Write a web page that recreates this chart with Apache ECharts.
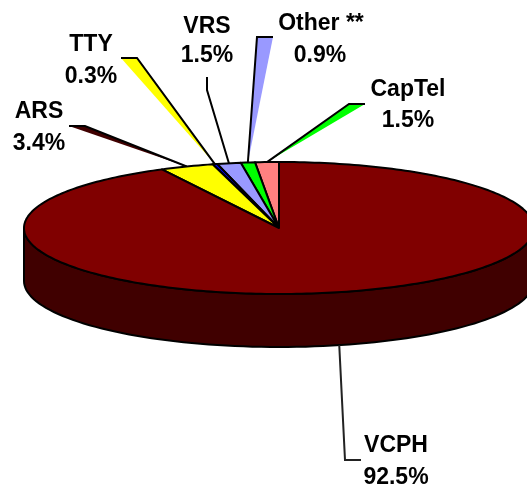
<!DOCTYPE html>
<html>
<head>
<meta charset="utf-8">
<style>html,body{margin:0;padding:0;background:#fff}#c{width:527px;height:485px}</style>
<script src="https://cdn.jsdelivr.net/npm/echarts@6/dist/echarts.min.js"></script>
</head>
<body>
<div id="c"></div>
<script>
// Data, counter-clockwise from 12 o'clock
const categories = ['CapTel', 'Other **', 'VRS', 'TTY', 'ARS', 'VCPH'];
const shares = [1.5, 0.9, 1.5, 0.3, 3.4, 92.5];
const shareLabels = ['1.5%', '0.9%', '1.5%', '0.3%', '3.4%', '92.5%'];

// Styling
const sliceColors = ['#ff8080', '#00ff00', '#9999ff', '#0000ff', '#ffff00', '#800000'];
const spikeColors = ['#00ff00', '#9999ff', null, '#ffff00', '#400000', null];
const sideColor = '#400000';
const EDGE = '#000';
const EDGE_WIDTH = 2;
const DEPTH = 53 / 66; // rim depth in y-axis units

// Pixel layout of callouts and labels
const spikeTips = [
  [[349, 104], [365, 104]],
  [[257, 37], [273, 37]],
  [[207, 77], [207, 90]],
  [[121, 58], [137, 58]],
  [[69, 126], [85, 126]],
  [[345, 460], [361, 460]]
];
const nameAt = [[408, 89.5], [321, 23.5], [207, 26.5], [91, 44.5], [39, 111.5], [396, 445.5]];
const shareAt = [[408, 120.5], [320, 55.5], [207, 55.5], [91, 76.5], [39, 143.5], [396, 477.5]];

const total = shares.reduce((a, b) => a + b, 0);
const toAngle = v => v / total * Math.PI * 2;
const starts = [];
shares.reduce((acc, v, i) => { starts[i] = acc; return acc + v; }, 0);
const rimPoint = (a, dy) => [-Math.sin(a), Math.cos(a) - (dy || 0)];

function renderSide(params, api) {
  const pts = [];
  for (let d = 90; d <= 270; d += 2) pts.push(api.coord(rimPoint(d * Math.PI / 180, 0)));
  for (let d = 270; d >= 90; d -= 2) pts.push(api.coord(rimPoint(d * Math.PI / 180, DEPTH)));
  return { type: 'polygon', shape: { points: pts }, style: { fill: sideColor, stroke: EDGE, lineWidth: EDGE_WIDTH } };
}

function renderSlice(params, api) {
  const i = params.dataIndex;
  const a0 = toAngle(starts[i]);
  const a1 = toAngle(starts[i] + shares[i]);
  const pts = [api.coord([0, 0])];
  const n = Math.max(2, Math.ceil((a1 - a0) / 0.02));
  for (let k = 0; k <= n; k++) pts.push(api.coord(rimPoint(a0 + (a1 - a0) * k / n)));
  return { type: 'polygon', shape: { points: pts }, style: { fill: sliceColors[i], stroke: EDGE, lineWidth: EDGE_WIDTH, lineJoin: 'round' } };
}

function renderSpike(params, api) {
  const i = params.dataIndex;
  const mid = toAngle(starts[i] + shares[i] / 2);
  const onFront = Math.cos(mid) < 0;
  const base = api.coord(rimPoint(mid, onFront ? DEPTH : 0));
  const tip = spikeTips[i];
  const children = [];
  if (spikeColors[i]) {
    children.push({ type: 'polygon', shape: { points: [base, tip[0], tip[1]] }, style: { fill: spikeColors[i], stroke: null } });
    const edgeFrom = (i === 0 || i === 1) ? tip[0] : tip[1];
    const other = edgeFrom === tip[0] ? tip[1] : tip[0];
    children.push({ type: 'polyline', shape: { points: [other, edgeFrom, base] }, style: { fill: null, stroke: EDGE, lineWidth: EDGE_WIDTH } });
  } else {
    const path = i === 2 ? [tip[0], tip[1], base] : [tip[1], tip[0], base];
    children.push({ type: 'polyline', shape: { points: path }, style: { fill: null, stroke: i === 5 ? '#222' : EDGE, lineWidth: EDGE_WIDTH } });
  }
  return { type: 'group', children };
}

const labelFont = 'bold 23px "Liberation Sans", Arial, sans-serif';
function renderLabel(params) {
  const i = params.dataIndex;
  return {
    type: 'group',
    children: [
      { type: 'text', style: { x: nameAt[i][0], y: nameAt[i][1], text: categories[i], font: labelFont, fill: '#000', align: 'center', verticalAlign: 'middle' } },
      { type: 'text', style: { x: shareAt[i][0], y: shareAt[i][1], text: shareLabels[i], font: labelFont, fill: '#000', align: 'center', verticalAlign: 'middle' } }
    ]
  };
}

const chart = echarts.init(document.getElementById('c'), null, { renderer: 'canvas' });
chart.setOption({
  backgroundColor: '#fff',
  animation: false,
  grid: { left: 24, top: 162, width: 510, height: 132, outerBoundsMode: 'none' },
  xAxis: { type: 'value', min: -1, max: 1, show: false },
  yAxis: { type: 'value', min: -1, max: 1, show: false },
  series: [
    { type: 'custom', silent: true, z: 1, renderItem: renderSide, data: [shares[5]] },
    { type: 'custom', silent: true, z: 2, renderItem: renderSpike, data: shares },
    { type: 'custom', silent: true, z: 3, renderItem: renderSlice, data: shares },
    { type: 'custom', silent: true, z: 4, renderItem: renderLabel, data: categories }
  ]
});
</script>
</body>
</html>
